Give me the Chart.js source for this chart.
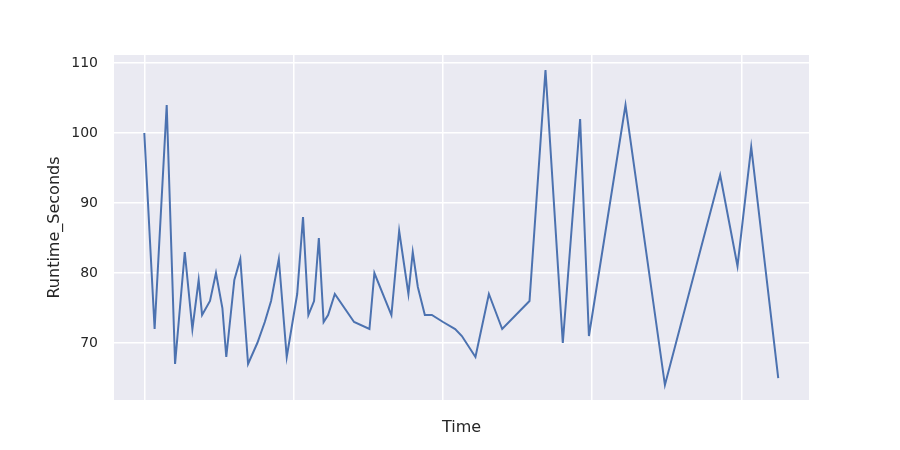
<!DOCTYPE html>
<html>
<head>
<meta charset="utf-8">
<script src="https://cdn.jsdelivr.net/npm/chart.js@4"></script>
<style>
  html, body { margin: 0; padding: 0; background: #fff; }
  #wrap { width: 900px; height: 450px; }
</style>
</head>
<body>
<div id="wrap"><canvas id="c" width="900" height="450"></canvas></div>
<script>
// time axis (unlabelled in the original), one unit = 1/10 of a grid step
var timeValues = [0, 0.69, 1.50, 2.06, 2.71, 3.22, 3.64, 3.87, 4.40, 4.80,
  5.23, 5.49, 6.03, 6.43, 6.95, 7.57, 8.07, 8.49, 9.01, 9.54,
  10.24, 10.63, 10.99, 11.37, 11.69, 12.01, 12.31, 12.76, 14.05, 15.08,
  15.41, 16.55, 17.07, 17.69, 17.98, 18.32, 18.79, 19.26, 20.01, 20.82,
  21.27, 22.18, 23.08, 23.97, 25.80, 26.87, 28.03, 29.19, 29.78, 32.23,
  34.87, 38.57, 39.73, 40.65, 42.46];
var runtimeSeconds = [100, 72, 104, 67, 83, 72, 79, 74, 76, 80,
  75, 68, 79, 82, 67, 70, 73, 76, 82, 68,
  77, 88, 74, 76, 85, 73, 74, 77, 73, 72,
  80, 74, 86, 77, 83, 78, 74, 74, 73, 72,
  71, 68, 77, 72, 76, 109, 70, 102, 71, 104,
  64, 94, 81, 98, 65];
var xGridTicks = [0, 10, 20, 30, 40];
var yTicks = [70, 80, 90, 100, 110];

var points = timeValues.map(function (t, i) {
    return { x: t, y: runtimeSeconds[i] };
});

// seaborn darkgrid background
var bgPlugin = {
    id: 'bg',
    beforeDraw: function (chart) {
        var a = chart.chartArea, ctx = chart.ctx;
        ctx.save();
        ctx.fillStyle = '#eaeaf2';
        ctx.fillRect(a.left, a.top, a.right - a.left, a.bottom - a.top);
        ctx.restore();
    }
};

var ctx = document.getElementById('c').getContext('2d');
new Chart(ctx, {
    type: 'line',
    data: {
        datasets: [{
            data: points,
            borderColor: '#4c72b0',
            borderWidth: 2,
            pointRadius: 0,
            tension: 0,
            fill: false
        }]
    },
    options: {
        responsive: false,
        animation: false,
        layout: { padding: { left: 0, top: 55, right: 91, bottom: 0 } },
        plugins: { legend: { display: false }, tooltip: { enabled: false } },
        scales: {
            x: {
                type: 'linear',
                min: -2.03,
                max: 44.52,
                afterBuildTicks: function (scale) {
                    scale.ticks = xGridTicks.map(function (v) { return { value: v }; });
                },
                afterFit: function (scale) { scale.height = 50; },
                ticks: { display: false },
                grid: { color: '#ffffff', lineWidth: 1.5, drawTicks: false },
                border: { display: false },
                title: {
                    display: true,
                    text: 'Time',
                    color: '#262626',
                    font: { family: 'DejaVu Sans', size: 16 },
                    padding: { top: 0, bottom: 13 }
                }
            },
            y: {
                min: 61.86,
                max: 111.14,
                afterBuildTicks: function (scale) {
                    scale.ticks = yTicks.map(function (v) { return { value: v }; });
                },
                afterFit: function (scale) { scale.width = 114; },
                ticks: {
                    color: '#262626',
                    font: { family: 'DejaVu Sans', size: 14 },
                    padding: 16
                },
                grid: { color: '#ffffff', lineWidth: 1.5, drawTicks: false },
                border: { display: false },
                title: {
                    display: true,
                    text: 'Runtime_Seconds',
                    color: '#262626',
                    font: { family: 'DejaVu Sans', size: 16 },
                    padding: { top: 45, bottom: 0 }
                }
            }
        }
    },
    plugins: [bgPlugin]
});
</script>
</body>
</html>
